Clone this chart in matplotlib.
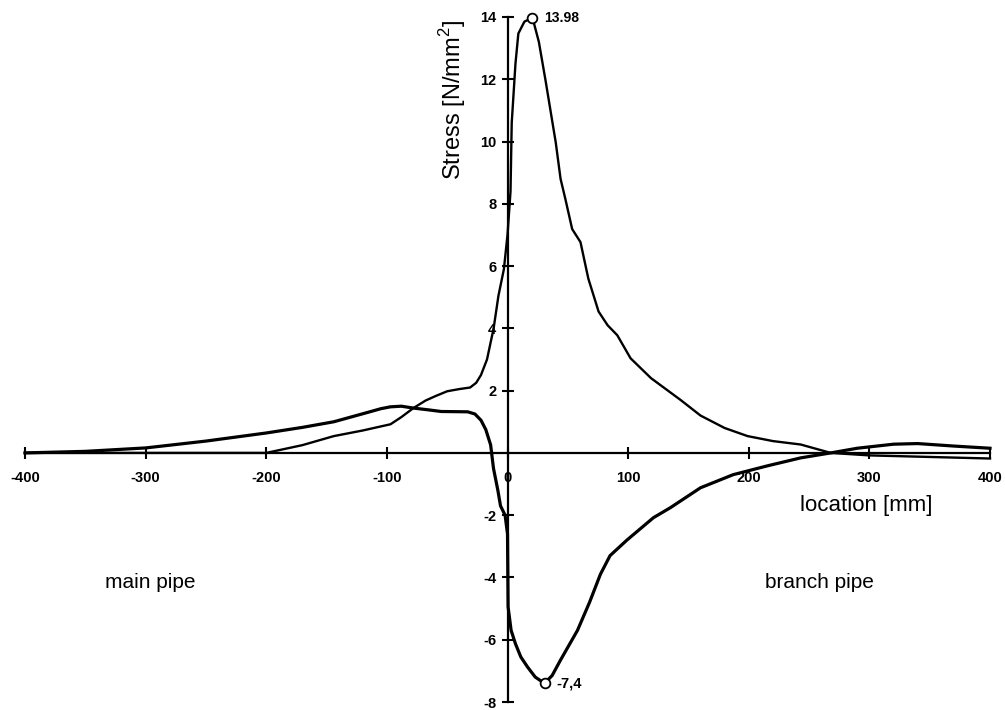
import matplotlib
matplotlib.use("Agg")
import matplotlib.pyplot as plt

plt.rcParams["font.family"] = ["Liberation Sans", "DejaVu Sans"]
plt.rcParams["mathtext.fontset"] = "custom"
plt.rcParams["mathtext.rm"] = "Liberation Sans"

# stress along the pipe, curve peaking at +13.98
loc_upper = [-400, -300, -200, -170, -144, -120, -97, -88, -78, -68, -60,
             -50, -40, -31, -26, -22, -17, -11.5, -7.5, -3, 0, 2.5, 3.5, 6.6,
             9, 14, 20.7, 26, 31.5, 40, 44, 48, 53.6, 60.5, 67, 75.5, 83, 91,
             102, 119, 143.5, 160, 180, 199, 220, 243, 268, 300, 340, 400]
stress_upper = [0, 0, 0, 0.25, 0.54, 0.72, 0.92, 1.15, 1.44, 1.68, 1.82,
                1.98, 2.05, 2.1, 2.25, 2.5, 3.0, 4.0, 5.05, 5.9, 7.0, 8.4,
                10.6, 12.5, 13.47, 13.85, 13.98, 13.2, 11.97, 9.97, 8.8, 8.15,
                7.19, 6.77, 5.6, 4.54, 4.1, 3.78, 3.04, 2.4, 1.7, 1.2, 0.8,
                0.54, 0.38, 0.27, 0, -0.08, -0.12, -0.18]

# stress along the pipe, curve dipping to -7.4
loc_lower = [-400, -350, -300, -250, -200, -170, -144, -130, -116, -105, -97,
             -88, -78, -65, -55, -33, -27, -22, -18, -14, -11.6, -8, -5.8, -2,
             0, 0.5, 3, 6.6, 11, 16.5, 23, 30.7, 37, 44, 58, 68, 77, 85, 99,
             121, 135, 160, 187, 215, 243, 268, 290, 320, 340, 370, 400]
stress_lower = [0, 0.05, 0.16, 0.38, 0.64, 0.82, 1.0, 1.15, 1.3, 1.42, 1.48,
                1.5, 1.44, 1.38, 1.33, 1.32, 1.25, 1.05, 0.75, 0.26, -0.5,
                -1.2, -1.7, -2.0, -2.6, -4.95, -5.7, -6.13, -6.55, -6.87,
                -7.2, -7.4, -7.15, -6.65, -5.7, -4.8, -3.9, -3.3, -2.8, -2.08,
                -1.76, -1.12, -0.70, -0.42, -0.16, 0, 0.15, 0.28, 0.3, 0.22,
                0.15]

peak_max = (20.7, 13.98)
peak_min = (30.7, -7.4)

x_ticks = [-400, -300, -200, -100, 0, 100, 200, 300, 400]
y_ticks = [-8, -6, -4, -2, 2, 4, 6, 8, 10, 12, 14]

fig = plt.figure(figsize=(10.05, 7.10), dpi=100)
ax = fig.add_axes([25 / 1005, 8 / 710, 965 / 1005, 685 / 710])
ax.set_xlim(-400, 400)
ax.set_ylim(-8, 14)

ax.plot(loc_upper, stress_upper, color="black", lw=1.7, clip_on=False,
        solid_joinstyle="round")
ax.plot(loc_lower, stress_lower, color="black", lw=2.3, clip_on=False,
        solid_joinstyle="round")
ax.plot(*peak_max, "o", ms=7, mfc="white", mec="black", mew=1.3,
        clip_on=False, zorder=5)
ax.plot(*peak_min, "o", ms=7, mfc="white", mec="black", mew=1.3,
        clip_on=False, zorder=5)
ax.text(peak_max[0] + 10, peak_max[1], "13.98", fontsize=10,
        fontweight="bold", ha="left", va="center")
ax.text(peak_min[0] + 10, peak_min[1], "-7,4", fontsize=10.5,
        fontweight="bold", ha="left", va="center")

# axes crossing at the origin
for side in ("top", "right"):
    ax.spines[side].set_visible(False)
ax.spines["left"].set_position(("data", 0))
ax.spines["bottom"].set_position(("data", 0))
ax.spines["left"].set_bounds(-8, 14)
ax.spines["bottom"].set_bounds(-400, 400)
for side in ("left", "bottom"):
    ax.spines[side].set_linewidth(1.6)

ax.set_xticks(x_ticks)
ax.set_xticklabels([str(v) for v in x_ticks])
ax.set_yticks(y_ticks)
ax.set_yticklabels([str(v) for v in y_ticks])
ax.tick_params(direction="inout", length=8, width=1.5, labelsize=10.5,
               pad=4)
ax.tick_params(axis="x", pad=9)
for lab in ax.get_xticklabels() + ax.get_yticklabels():
    lab.set_fontweight("bold")

fig.text(453 / 1005, 1 - 100 / 710, r"Stress [N/mm$^2$]", rotation=90,
         fontsize=17, ha="center", va="center")
fig.text(800 / 1005, 1 - 505 / 710, "location [mm]", fontsize=16,
         ha="left", va="center")
fig.text(105 / 1005, 1 - 582 / 710, "main pipe", fontsize=15,
         ha="left", va="center")
fig.text(765 / 1005, 1 - 582 / 710, "branch pipe", fontsize=15,
         ha="left", va="center")

fig.savefig("out.png", dpi=100)
